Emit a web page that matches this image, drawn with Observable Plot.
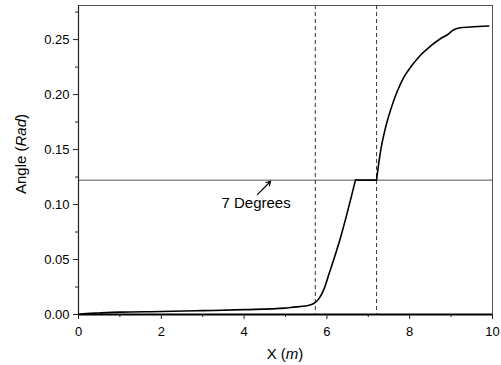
<!DOCTYPE html>
<html>
<head>
<meta charset="utf-8">
<script src="https://cdn.jsdelivr.net/npm/d3@7"></script>
<script src="https://cdn.jsdelivr.net/npm/@observablehq/plot@0.6"></script>
<style>
  html, body { margin: 0; padding: 0; background: #fff; }
  svg { font-family: "Liberation Sans", Arial, sans-serif; }
</style>
</head>
<body>
<div id="chart"></div>
<script>
// Curve data (X in m, Angle in rad), in three pieces: rise, plateau at 7 degrees, final rise
const riseX = [0, 0.2, 0.5, 1, 2, 3, 4, 5, 5.12, 5.52, 5.68, 5.8, 5.93, 6.05, 6.33, 6.69];
const riseY = [0, 0.0008, 0.0014, 0.0022, 0.0027, 0.0035, 0.0044, 0.0058, 0.0064, 0.0079, 0.010, 0.014, 0.0231, 0.0368, 0.0701, 0.1222];
const plateauX = [6.69, 7.2];
const plateauY = [0.1222, 0.1222];
const finalX = [7.2, 7.25, 7.32, 7.42, 7.54, 7.7, 7.86, 8.06, 8.26, 8.5, 8.74, 8.94, 9.03, 9.19, 9.47, 9.91];
const finalY = [0.1222, 0.1370, 0.1535, 0.1705, 0.1862, 0.2030, 0.2159, 0.2268, 0.2358, 0.2440, 0.2508, 0.2552, 0.2582, 0.2606, 0.2614, 0.2623];
const sevenDegrees = 7 * Math.PI / 180;
const dashedX = [5.72, 7.2];
const xTicks = [0, 2, 4, 6, 8, 10];
const xMinorTicks = [1, 3, 5, 7, 9];
const yTicks = [0, 0.05, 0.1, 0.15, 0.2, 0.25];
const yMinorTicks = [0.025, 0.075, 0.125, 0.175, 0.225, 0.275];
const annotationText = "7 Degrees";
const annotationPos = {x: 4.29, y: 0.1008};
const arrowFrom = {x: 4.32, y: 0.109};
const arrowTo = {x: 4.64, y: 0.1212};

const toRows = (xs, ys) => xs.map((x, i) => ({x, y: ys[i]}));
const rise = toRows(riseX, riseY);
const plateau = toRows(plateauX, plateauY);
const final = toRows(finalX, finalY);

const plot = Plot.plot({
  width: 501,
  height: 365,
  marginLeft: 78,
  marginRight: 9,
  marginTop: 5,
  marginBottom: 51,
  style: {fontFamily: "Liberation Sans, Arial, sans-serif", fontSize: "13px", color: "#000", background: "#fff"},
  x: {domain: [0, 10]},
  y: {domain: [0, 0.281]},
  marks: [
    Plot.frame({stroke: "#555", strokeWidth: 1}),
    Plot.ruleY([sevenDegrees], {stroke: "#555", strokeWidth: 1}),
    Plot.ruleX(dashedX, {stroke: "#333", strokeWidth: 1, strokeDasharray: "4,3"}),
    Plot.line(rise, {x: "x", y: "y", stroke: "#000", strokeWidth: 1.6, curve: "monotone-x"}),
    Plot.line(plateau, {x: "x", y: "y", stroke: "#000", strokeWidth: 1.6}),
    Plot.line(final, {x: "x", y: "y", stroke: "#000", strokeWidth: 1.6, curve: "monotone-x"}),
    Plot.ruleX([0], {stroke: "#222", strokeWidth: 1.2}),
    Plot.ruleY([0], {stroke: "#000", strokeWidth: 2}),
    Plot.axisX(xTicks, {tickSize: 5, tickPadding: 7, fontSize: 13, tickFormat: d => String(d), label: null, stroke: "#222"}),
    Plot.axisX(xMinorTicks, {tickSize: 3, tickFormat: () => "", label: null, stroke: "#222"}),
    Plot.axisY(yTicks, {tickSize: 5, tickPadding: 4, fontSize: 13, tickFormat: d3.format(".2f"), label: null, stroke: "#222"}),
    Plot.axisY(yMinorTicks, {tickSize: 3, tickFormat: () => "", label: null, stroke: "#222"}),
    Plot.arrow([{x1: arrowFrom.x, y1: arrowFrom.y, x2: arrowTo.x, y2: arrowTo.y}],
      {x1: "x1", y1: "y1", x2: "x2", y2: "y2", stroke: "#000", strokeWidth: 1.2, headLength: 6, bend: 0}),
    Plot.text([annotationText], {x: annotationPos.x, y: annotationPos.y, text: d => d, fontSize: 15, fill: "#000"})
  ]
});

document.getElementById("chart").appendChild(plot);

// Axis titles with italic units
const svg = d3.select(plot);
const xs = plot.scale("x");
const cx = (xs.apply(0) + xs.apply(10)) / 2;
const xt = svg.append("text")
  .attr("x", cx).attr("y", 359)
  .attr("text-anchor", "middle")
  .attr("font-size", 15).attr("fill", "#000");
xt.append("tspan").text("X (");
xt.append("tspan").attr("font-style", "italic").text("m");
xt.append("tspan").text(")");

const yt = svg.append("text")
  .attr("transform", `translate(26,154) rotate(-90)`)
  .attr("text-anchor", "middle")
  .attr("font-size", 15).attr("fill", "#000");
yt.append("tspan").text("Angle (");
yt.append("tspan").attr("font-style", "italic").text("Rad");
yt.append("tspan").text(")");
</script>
</body>
</html>
